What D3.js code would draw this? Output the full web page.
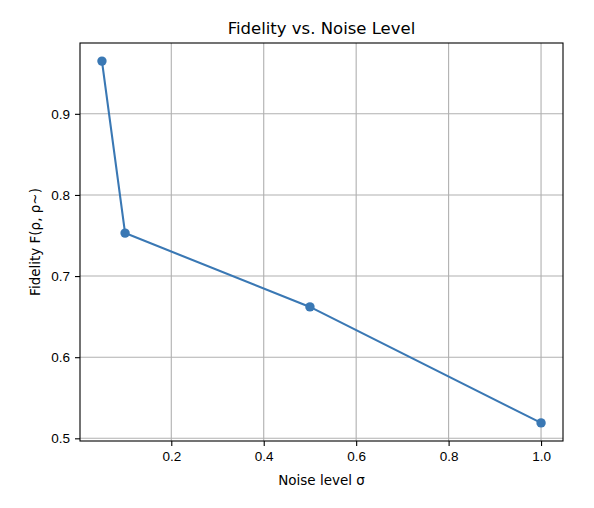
<!DOCTYPE html>
<html>
<head>
<meta charset="utf-8">
<script src="https://cdn.jsdelivr.net/npm/d3@7"></script>
<style>
  body { margin: 0; background: #fff; }
  svg { font-family: "DejaVu Sans", sans-serif; }
</style>
</head>
<body>
<div id="chart"></div>
<script>
// data
var noiseLevels = [0.05, 0.1, 0.5, 1.0];
var fidelities = [0.965, 0.753, 0.662, 0.519];
var xTicks = [0.2, 0.4, 0.6, 0.8, 1.0];
var yTicks = [0.5, 0.6, 0.7, 0.8, 0.9];

var width = 594, height = 508;
var margin = {top: 43, right: 31, bottom: 67, left: 80};
var innerW = width - margin.left - margin.right;
var innerH = height - margin.top - margin.bottom;
var color = '#3a78b4';

// matplotlib-like 5% padding around the data
function padded(values){
    var ext = d3.extent(values);
    var pad = (ext[1] - ext[0]) * 0.05;
    return [ext[0] - pad, ext[1] + pad];
}

var x = d3.scaleLinear().domain(padded(noiseLevels)).range([0, innerW]);
var y = d3.scaleLinear().domain(padded(fidelities)).range([innerH, 0]);

var svg = d3.select('#chart').append('svg')
    .attr('width', width)
    .attr('height', height);

var grp = svg.append('g').attr('transform', 'translate(' + margin.left + ',' + margin.top + ')');

// grid
grp.append('g').selectAll('line').data(xTicks)
    .enter().append('line')
    .attr('x1', function(d){ return x(d); })
    .attr('x2', function(d){ return x(d); })
    .attr('y1', 0).attr('y2', innerH)
    .attr('stroke', '#b0b0b0').attr('stroke-width', 1.1);

grp.append('g').selectAll('line').data(yTicks)
    .enter().append('line')
    .attr('y1', function(d){ return y(d); })
    .attr('y2', function(d){ return y(d); })
    .attr('x1', 0).attr('x2', innerW)
    .attr('stroke', '#b0b0b0').attr('stroke-width', 1.1);

// axes
var xAxis = d3.axisBottom(x).tickValues(xTicks).tickFormat(d3.format('.1f')).tickSizeOuter(0).tickSize(5).tickPadding(5);
var yAxis = d3.axisLeft(y).tickValues(yTicks).tickFormat(d3.format('.1f')).tickSizeOuter(0).tickSize(5).tickPadding(5);

var gx = grp.append('g').attr('transform', 'translate(0,' + innerH + ')').call(xAxis);
var gy = grp.append('g').call(yAxis);
[gx, gy].forEach(function(g){
    g.select('.domain').remove();
    g.selectAll('.tick line').attr('stroke', '#000').attr('stroke-width', 1.1);
    g.selectAll('.tick text').attr('fill', '#000').style('font-size', '13.5px');
});

// frame
grp.append('rect')
    .attr('width', innerW).attr('height', innerH)
    .attr('fill', 'none').attr('stroke', '#000').attr('stroke-width', 1.1);

// line + markers
var line = d3.line()
    .x(function(d, i){ return x(noiseLevels[i]); })
    .y(function(d){ return y(d); });

grp.append('path').datum(fidelities)
    .attr('d', line)
    .attr('fill', 'none')
    .attr('stroke', color)
    .attr('stroke-width', 2.1);

grp.selectAll('circle').data(fidelities)
    .enter().append('circle')
    .attr('cx', function(d, i){ return x(noiseLevels[i]); })
    .attr('cy', function(d){ return y(d); })
    .attr('r', 4.7)
    .attr('fill', color);

// texts
svg.append('text')
    .attr('x', margin.left + innerW / 2).attr('y', 34)
    .attr('text-anchor', 'middle')
    .style('font-size', '16.5px')
    .text('Fidelity vs. Noise Level');

svg.append('text')
    .attr('x', margin.left + innerW / 2).attr('y', 485)
    .attr('text-anchor', 'middle')
    .style('font-size', '13.5px')
    .text('Noise level σ');

svg.append('text')
    .attr('transform', 'translate(40,' + (margin.top + innerH / 2) + ') rotate(-90)')
    .attr('text-anchor', 'middle')
    .style('font-size', '13.5px')
    .text('Fidelity F(ρ, ρ~)');
</script>
</body>
</html>
